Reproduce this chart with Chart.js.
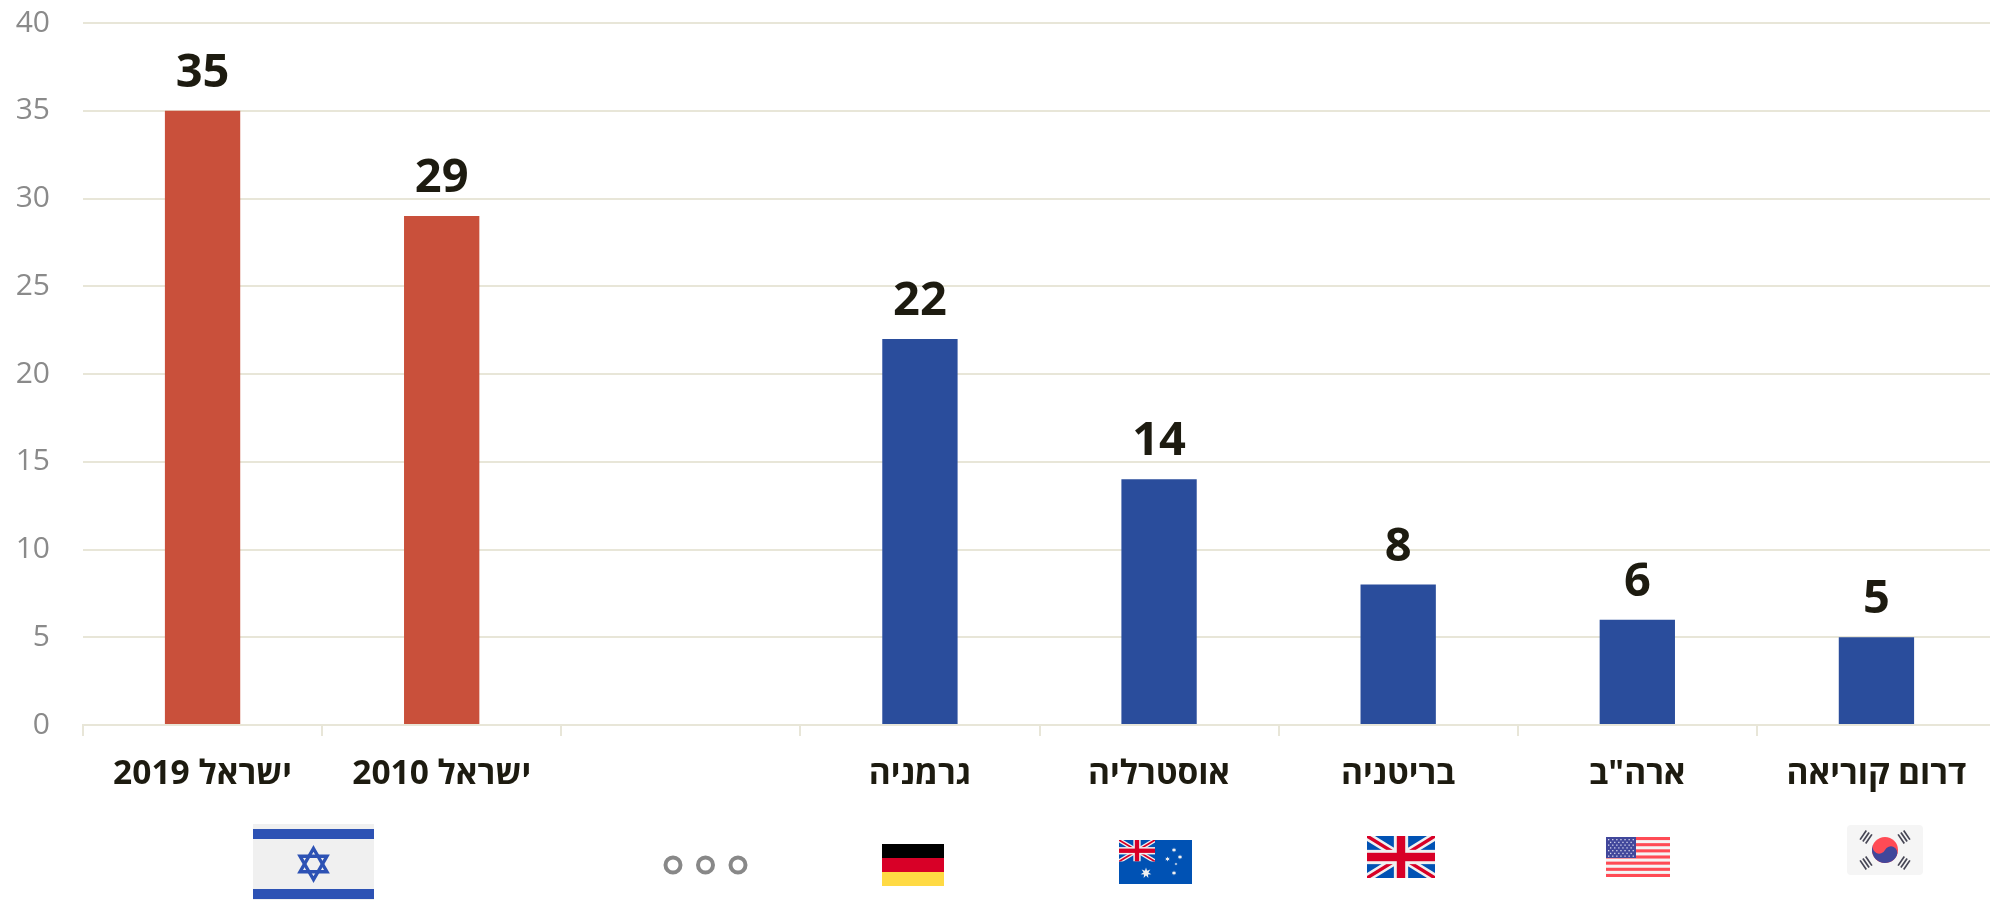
<!DOCTYPE html>
<html lang="he"><head><meta charset="utf-8">
<style>html,body{margin:0;padding:0;background:#fff;overflow:hidden;width:1990px;height:901px}canvas{display:block}</style>
<script src="https://cdn.jsdelivr.net/npm/chart.js@4/dist/chart.umd.min.js"></script>
</head><body><canvas id="c" width="1996" height="901"></canvas>
<script>
const categories = ['ישראל 2019','ישראל 2010','','גרמניה','אוסטרליה','בריטניה','ארה"ב','דרום קוריאה'];
const values = [35,29,null,22,14,8,6,5];
const barColors = ['#c9503b','#c9503b','#2a4d9c','#2a4d9c','#2a4d9c','#2a4d9c','#2a4d9c','#2a4d9c'];
const yTicks = [0,5,10,15,20,25,30,35,40];
const LINE='#e8e6d8', INK='#1d1b10';

function rect(x,c,l,t,w,h){x.fillStyle=c;x.fillRect(l,t,w,h);}
function star(x,cx,cy,r,c,n=5){x.fillStyle=c;x.beginPath();for(let i=0;i<n*2;i++){const a=-Math.PI/2+i*Math.PI/n,q=i%2?r*.45:r;x.lineTo(cx+q*Math.cos(a),cy+q*Math.sin(a));}x.closePath();x.fill();}
function union(x,l,t,w,h,thick){
  x.save();x.beginPath();x.rect(l,t,w,h);x.clip();
  rect(x,'#0052b4',l,t,w,h);
  x.lineCap='butt';
  x.strokeStyle='#f0f0f0';x.lineWidth=h*.2;x.beginPath();x.moveTo(l,t);x.lineTo(l+w,t+h);x.moveTo(l+w,t);x.lineTo(l,t+h);x.stroke();
  x.strokeStyle='#d80027';x.lineWidth=h*.08;x.beginPath();x.moveTo(l,t);x.lineTo(l+w,t+h);x.moveTo(l+w,t);x.lineTo(l,t+h);x.stroke();
  const a=h*thick;
  rect(x,'#f0f0f0',l+w/2-a*.85,t,a*1.7,h);rect(x,'#f0f0f0',l,t+h/2-a*.85,w,a*1.7);
  rect(x,'#d80027',l+w/2-a/2,t,a,h);rect(x,'#d80027',l,t+h/2-a/2,w,a);
  x.restore();
}
function drawIsrael(x){
  const l=253,t=824,w=121,h=76;
  rect(x,'#f0f0f0',l,t,w,h);
  rect(x,'#2d52b4',l,t+5,w,10);rect(x,'#2d52b4',l,t+65,w,10);
  const cx=l+w/2,cy=t+40,r=15.5;
  x.strokeStyle='#2d52b4';x.lineWidth=3.4;
  for(const s of [-1,1]){x.beginPath();for(let i=0;i<3;i++){const a=s*Math.PI/2+i*2*Math.PI/3;x.lineTo(cx+r*Math.cos(a),cy+r*Math.sin(a));}x.closePath();x.stroke();}
}
function drawDots(x){
  x.strokeStyle='#888';x.lineWidth=4;
  for(const cx of [673,705.5,738]){x.beginPath();x.arc(cx,865,7.5,0,7);x.stroke();}
}
function drawGermany(x){const l=882,t=844,w=62,h=42;rect(x,'#000',l,t,w,h/3);rect(x,'#d80027',l,t+h/3,w,h/3);rect(x,'#ffda44',l,t+2*h/3,w,h/3);}
function drawAustralia(x){
  const l=1119,t=840,w=73,h=44;
  rect(x,'#0052b4',l,t,w,h);
  union(x,l,t,36,21.5,.2);
  star(x,l+27,t+33,5.5,'#f0f0f0',7);
  for(const [a,b,r] of [[55,10,2.6],[61,17,2.6],[48.5,19,2.6],[55,33,2.6],[57,24,1.6]]) star(x,l+a,t+b,r,'#f0f0f0',6);
}
function drawUK(x){union(x,1367,836,68,42,.2);}
function drawUSA(x){
  const l=1606,t=837,w=64,h=40;
  rect(x,'#f5f5f5',l,t,w,h);
  for(let i=0;i<7;i++) rect(x,'#ff4b55',l,t+i*h/6.5,w,h/13);
  rect(x,'#41479b',l,t,30,21);
  x.fillStyle='#d8d8ee';
  for(let r=0;r<7;r++)for(let c=0;c<(r%2?6:7);c++){x.fillRect(l+2+c*4.1+(r%2?2:0),t+2+r*2.75,1.3,1.3);}
}
function drawKorea(x){
  const l=1847,t=825,w=76,h=50,cx=l+38,cy=t+25,r=13;
  x.fillStyle='#f5f5f5';x.beginPath();x.roundRect(l,t,w,h,4);x.fill();
  x.fillStyle='#ff4b55';x.beginPath();x.arc(cx,cy,r,0,7);x.fill();
  const a0=Math.PI/7;
  const ux=Math.cos(a0)*r/2,uy=Math.sin(a0)*r/2;
  x.fillStyle='#41479b';
  x.beginPath();x.arc(cx,cy,r,a0,a0+Math.PI);x.arc(cx-ux,cy-uy,r/2,a0+Math.PI,a0,true);x.arc(cx+ux,cy+uy,r/2,a0+Math.PI,a0,false);x.closePath();x.fill();
  x.strokeStyle='#464655';x.lineWidth=1.7;
  for(const [dx,dy] of [[-19,-13],[19,-13],[-19,13],[19,13]]){
    const ang=Math.atan2(dy,dx)+Math.PI/2;
    x.save();x.translate(cx+dx,cy+dy);x.rotate(ang);
    for(const o of [-3.4,0,3.4]){x.beginPath();x.moveTo(-5.5,o);x.lineTo(5.5,o);x.stroke();}
    x.restore();
  }
}
const flagPlugin={id:'flags',afterDraw(chart){
  const x=chart.ctx;x.save();
  drawIsrael(x);drawDots(x);drawGermany(x);drawAustralia(x);drawUK(x);drawUSA(x);drawKorea(x);
  x.restore();
}};
const valuePlugin={id:'vals',afterDatasetsDraw(chart){
  const x=chart.ctx,m=chart.getDatasetMeta(0);
  x.save();x.font='700 47px "Open Sans"';x.fillStyle=INK;x.textAlign='center';x.textBaseline='alphabetic';
  values.forEach((v,i)=>{if(v==null)return;const e=m.data[i];x.fillText(String(v),e.x,e.y-24);});
  x.restore();
}};
new Chart(document.getElementById('c'),{
  type:'bar',
  data:{labels:categories,datasets:[{data:values,backgroundColor:barColors,borderWidth:0,barPercentage:.315,categoryPercentage:1}]},
  options:{responsive:false,animation:false,
    layout:{padding:{top:23,right:0,bottom:0,left:0}},
    plugins:{legend:{display:false},tooltip:{enabled:false}},
    scales:{
      y:{min:0,max:40,
        afterBuildTicks(s){s.ticks=yTicks.map(v=>({value:v}));},
        afterFit(s){s.width=83;s.paddingTop=0;s.paddingBottom=0;},
        grid:{color:LINE,lineWidth:2,drawTicks:false},
        border:{display:false},
        ticks:{padding:33,color:'#8a8a8a',font:{family:'"Open Sans"',size:30,weight:400}}},
      x:{afterFit(s){s.height=176;s.paddingLeft=0;s.paddingRight=0;},
        grid:{color:LINE,lineWidth:2,drawOnChartArea:false,tickLength:11},
        border:{color:LINE,width:2},
        ticks:{padding:18,color:INK,maxRotation:0,autoSkip:false,font:{family:'"Open Sans"',size:33.5,weight:700}}}
    }},
  plugins:[valuePlugin,flagPlugin]
});
</script></body></html>
